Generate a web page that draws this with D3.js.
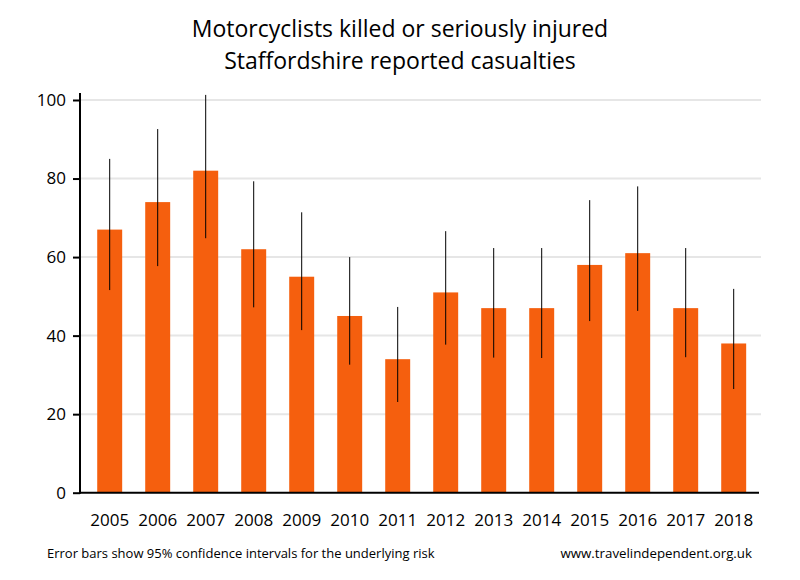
<!DOCTYPE html>
<html>
<head>
<meta charset="utf-8">
<script src="https://cdn.jsdelivr.net/npm/d3@7"></script>
<style>
  body { margin: 0; background: #fff; }
  text { font-family: "Open Sans", sans-serif; fill: #000; }
</style>
</head>
<body>
<svg id="chart" width="800" height="580"></svg>
<script>
const years = ["2005","2006","2007","2008","2009","2010","2011","2012","2013","2014","2015","2016","2017","2018"];
const values = [67, 74, 82, 62, 55, 45, 34, 51, 47, 47, 58, 61, 47, 38];
const lower = [51.6, 57.7, 64.8, 47.2, 41.4, 32.6, 23.1, 37.7, 34.4, 34.3, 43.7, 46.3, 34.5, 26.4];
const upper = [85.0, 92.6, 101.3, 79.3, 71.4, 60.0, 47.3, 66.6, 62.3, 62.3, 74.5, 78.0, 62.3, 51.9];
const yTicks = [0, 20, 40, 60, 80, 100];
const titleLines = ["Motorcyclists killed or seriously injured", "Staffordshire reported casualties"];
const footLeft = "Error bars show 95% confidence intervals for the underlying risk";
const footRight = "www.travelindependent.org.uk";

const svg = d3.select("#chart");
const x = d3.scaleBand().domain(years).range([85.7, 757.7]).paddingInner(0.48).paddingOuter(0.24);
const y = d3.scaleLinear().domain([0, 100]).range([492.7, 100]);

// gridlines
svg.append("g").selectAll("line").data(yTicks.filter(d => d > 0)).join("line")
  .attr("x1", 80).attr("x2", 761)
  .attr("y1", d => y(d)).attr("y2", d => y(d))
  .attr("stroke", "#e6e6e6").attr("stroke-width", 2);

// bars
svg.append("g").selectAll("rect").data(years).join("rect")
  .attr("x", d => x(d)).attr("width", x.bandwidth())
  .attr("y", (d, i) => y(values[i]))
  .attr("height", (d, i) => y(0) - y(values[i]))
  .attr("fill", "#f55f0e");

// error bars
svg.append("g").selectAll("line").data(years).join("line")
  .attr("x1", d => x(d) + x.bandwidth() / 2).attr("x2", d => x(d) + x.bandwidth() / 2)
  .attr("y1", (d, i) => y(upper[i])).attr("y2", (d, i) => y(lower[i]))
  .attr("stroke", "#000").attr("stroke-width", 1);

// y axis
const yAxis = d3.axisLeft(y).tickValues(yTicks).tickSize(7).tickPadding(7);
const gy = svg.append("g").attr("transform", "translate(80,0)").call(yAxis);
gy.select(".domain").remove();
gy.selectAll(".tick line").attr("stroke", "#000").attr("stroke-width", 2);
gy.selectAll(".tick text").style("font-size", "17px").style("font-family", "'Open Sans', sans-serif").attr("fill", "#000");
svg.append("line").attr("x1", 80).attr("x2", 80).attr("y1", 93).attr("y2", y(0) + 1)
  .attr("stroke", "#000").attr("stroke-width", 2);

// x axis
const xAxis = d3.axisBottom(x).tickSize(0).tickPadding(21);
const gx = svg.append("g").attr("transform", `translate(0,${y(0)})`).call(xAxis);
gx.select(".domain").remove();
gx.selectAll(".tick text").style("font-size", "17px").style("font-family", "'Open Sans', sans-serif").attr("fill", "#000");
svg.append("line").attr("x1", 79).attr("x2", 759).attr("y1", y(0)).attr("y2", y(0))
  .attr("stroke", "#000").attr("stroke-width", 2);

// title
svg.append("g").selectAll("text").data(titleLines).join("text")
  .attr("x", 400).attr("y", (d, i) => 37 + i * 32)
  .attr("text-anchor", "middle").style("font-size", "23px").text(d => d);

// footers
svg.append("text").attr("x", 47).attr("y", 558).style("font-size", "13px").text(footLeft);
svg.append("text").attr("x", 752).attr("y", 558).attr("text-anchor", "end").style("font-size", "13.3px").text(footRight);
</script>
</body>
</html>
